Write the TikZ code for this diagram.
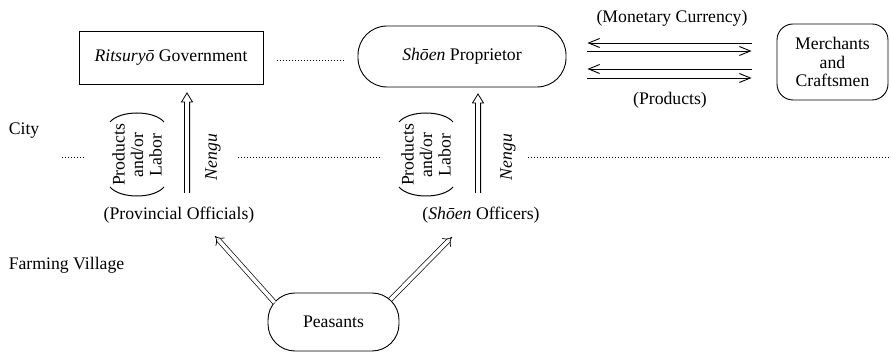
\documentclass[tikz,border=0pt]{standalone}
\usepackage{fontspec}
\setmainfont{Liberation Serif}
\usetikzlibrary{arrows.meta,calc}
\begin{document}
\begin{tikzpicture}[x=1pt,y=-1pt,
  font=\rmfamily\fontsize{17.7}{18.5}\selectfont,
  line width=0.9pt,
  sqbox/.style={draw, rectangle, inner sep=0pt, minimum width=#1},
  rbox/.style={draw, inner sep=0pt, align=center},
  dotline/.style={line width=1pt, dash pattern=on 1pt off 2pt},
  exarr/.style={line width=0.9pt, arrows={-{Straight Barb[length=11pt,width=9pt]}}},
  dbl/.style={double, double distance=3.6pt, line width=0.7pt, -{Implies}},
  hollow/.style={line width=0.8pt, line join=miter},
  paren/.style={line width=1pt}
]
\useasboundingbox (0,0) rectangle (891,352);

% main boxes
\node[sqbox=184pt, minimum height=53pt] (rit) at (171,57.5) {\textit{Ritsuryō} Government};
\node[rbox, rounded corners=29pt, minimum width=208pt, minimum height=61pt] (shoen) at (462,56.5) {\textit{Shōen} Proprietor};
\node[rbox, rounded corners=16pt, minimum width=111pt, minimum height=76pt] (merch) at (832.5,62) {Merchants\\and\\Craftsmen};
\node[rbox, rounded corners=27pt, minimum width=131pt, minimum height=58pt] (peas) at (333.5,322) {Peasants};

% labels
\node (money) at (672,18) {(Monetary Currency)};
\node (prodlab) at (670,100) {(Products)};
\node[anchor=west] (city) at (5,131) {City};
\node[anchor=west] (farm) at (5,265) {Farming Village};
\node (prov) at (179,215) {(Provincial Officials)};
\node (offic) at (481,215) {(\textit{Shōen} Officers)};
\node[rotate=90, align=center, inner sep=0pt] (pl1) at (137,155) {Products\\and/or\\Labor};
\node[rotate=90, align=center, inner sep=0pt] (pl2) at (426,155) {Products\\and/or\\Labor};
\node[rotate=90] (ng1) at (213,157) {\textit{Nengu}};
\node[rotate=90] (ng2) at (508,157) {\textit{Nengu}};

% parentheses
\foreach \p in {pl1,pl2}{
  \draw[paren] ($(\p)+(-27,-33)$) .. controls ($(\p)+(-17,-45)$) and ($(\p)+(17,-45)$) .. ($(\p)+(27,-33)$);
  \draw[paren] ($(\p)+(-27,32)$) .. controls ($(\p)+(-17,44)$) and ($(\p)+(17,44)$) .. ($(\p)+(27,32)$);
}

% dotted lines
\draw[dotline, shorten <=14pt, shorten >=13pt] (rit.east |- 0,61) -- (shoen.west |- 0,61);
\coordinate (d1a) at (62,158);
\coordinate (d1b) at (86,158);
\coordinate (d2a) at (238,158);
\coordinate (d2b) at (382,158);
\coordinate (d3a) at (528,158);
\coordinate (d3b) at (891,158);
\draw[dotline] (d1a) -- (d1b);
\draw[dotline] (d2a) -- (d2b);
\draw[dotline] (d3a) -- (d3b);

% exchange arrows
\draw[exarr, shorten >=21pt, shorten <=25pt] (merch.west |- 0,43) -- (shoen.east |- 0,43);
\draw[exarr, shorten <=21pt, shorten >=25pt] (shoen.east |- 0,51) -- (merch.west |- 0,51);
\draw[exarr, shorten >=21pt, shorten <=25pt] (merch.west |- 0,69) -- (shoen.east |- 0,69);
\draw[exarr, shorten <=21pt, shorten >=25pt] (shoen.east |- 0,78) -- (merch.west |- 0,78);

% nengu arrows (hollow double arrows)
\coordinate (n1) at (187,193);
\coordinate (n1t) at (187,93);
\coordinate (n2) at (478,193);
\coordinate (n2t) at (478,94);
\foreach \b/\t in {n1/n1t,n2/n2t}{
  \draw[hollow] ($(\b)+(-2.6,0)$) -- ($(\t)+(-2.6,9)$) -- ($(\t)+(-5.5,9)$) -- (\t)
     -- ($(\t)+(5.5,9)$) -- ($(\t)+(2.6,9)$) -- ($(\b)+(2.6,0)$);
}

% peasant arrows
\coordinate (t1) at (215,236);
\coordinate (t2) at (452,237);
\draw[dbl] ($(peas.north west)+(7,10)$) -- (t1);
\draw[dbl] ($(peas.north east)+(-9,7)$) -- (t2);
\end{tikzpicture}
\end{document}
